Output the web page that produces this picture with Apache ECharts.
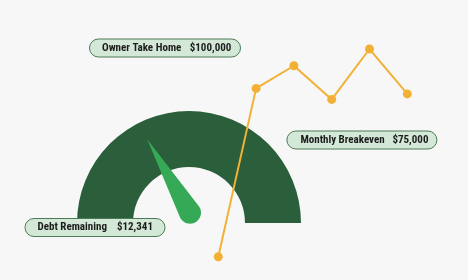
<!DOCTYPE html>
<html>
<head>
<meta charset="utf-8">
<script src="https://cdn.jsdelivr.net/npm/echarts@6/dist/echarts.min.js"></script>
<style>
html,body{margin:0;padding:0;background:#f7f7f7;}
#c{width:468px;height:280px;}
</style>
</head>
<body>
<div id="c"></div>
<script>
// ---- data ----
var lineCategories = ['P1', 'P2', 'P3', 'P4', 'P5', 'P6'];
var lineValues = [1.5, 78.0, 88.3, 73.0, 95.9, 75.5];
var gaugeValue = [33.2];
var calloutNames = ['Owner Take Home', 'Monthly Breakeven', 'Debt Remaining'];
var calloutValues = ['$100,000', '$75,000', '$12,341'];

// ---- layout / style ----
var FONT = '"Roboto Condensed", "Open Sans Condensed", Lato, sans-serif';
var calloutLayout = [
  {left: 89, top: 37.5, padL: 13, padR: 9, wa: 87.7, wb: 39.3},
  {left: 287, top: 129.5, padL: 13.4, padR: 9, wa: 92, wb: 34},
  {left: 24.5, top: 217, padL: 13, padR: 12, wa: 79.4, wb: 34.3}
];

var titles = calloutNames.map(function (n, i) {
  var L = calloutLayout[i];
  return {
    text: '{a|' + n + '}{b|' + calloutValues[i] + '}',
    left: L.left, top: L.top,
    padding: [4, L.padR, 4, L.padL],
    backgroundColor: '#d4e8d8',
    borderColor: '#4c7a57',
    borderWidth: 1,
    borderRadius: 11,
    textStyle: {
      rich: {
        a: {fontFamily: FONT, fontWeight: 'bold', fontSize: 11, color: '#1c1c1c', width: L.wa, lineHeight: 13},
        b: {fontFamily: FONT, fontWeight: 'bold', fontSize: 11, color: '#1c1c1c', width: L.wb, lineHeight: 13}
      }
    }
  };
});

var pointerPath = 'path://M50 0 L99.58 379.5 A50 50 0 1 1 0.42 379.5 Z';

var chart = echarts.init(document.getElementById('c'), null, {renderer: 'canvas'});
chart.setOption({
  backgroundColor: '#f7f7f7',
  animation: false,
  title: titles,
  grid: {left: 218.3, right: 60.7, top: 40, bottom: 20},
  xAxis: {type: 'category', data: lineCategories, boundaryGap: false, show: false},
  yAxis: {type: 'value', min: 0, max: 100, show: false},
  series: [
    {
      type: 'gauge',
      center: [189, 223],
      radius: 112,
      startAngle: 180, endAngle: 0,
      min: 0, max: 100,
      axisLine: {lineStyle: {width: 56, color: [[1, '#2b5e3a']]}},
      axisTick: {show: false}, splitLine: {show: false}, axisLabel: {show: false},
      pointer: {show: false}, anchor: {show: false}, progress: {show: false},
      title: {show: false}, detail: {show: false},
      data: []
    },
    {
      type: 'gauge',
      center: [190, 212.7],
      radius: 100,
      startAngle: 180, endAngle: 0,
      min: 0, max: 100,
      axisLine: {show: false},
      axisTick: {show: false}, splitLine: {show: false}, axisLabel: {show: false},
      pointer: {show: true, icon: pointerPath, length: 96, width: 22, offsetCenter: [0, 11], keepAspect: false,
        itemStyle: {color: '#35a956'}},
      anchor: {show: false}, progress: {show: false},
      title: {show: false}, detail: {show: false},
      data: gaugeValue.map(function (v) { return {value: v}; })
    },
    {
      type: 'line',
      data: lineValues,
      symbol: 'circle',
      symbolSize: 9,
      lineStyle: {color: '#f2b135', width: 2},
      itemStyle: {color: '#f2b135'},
      z: 3
    }
  ]
});
</script>
</body>
</html>
